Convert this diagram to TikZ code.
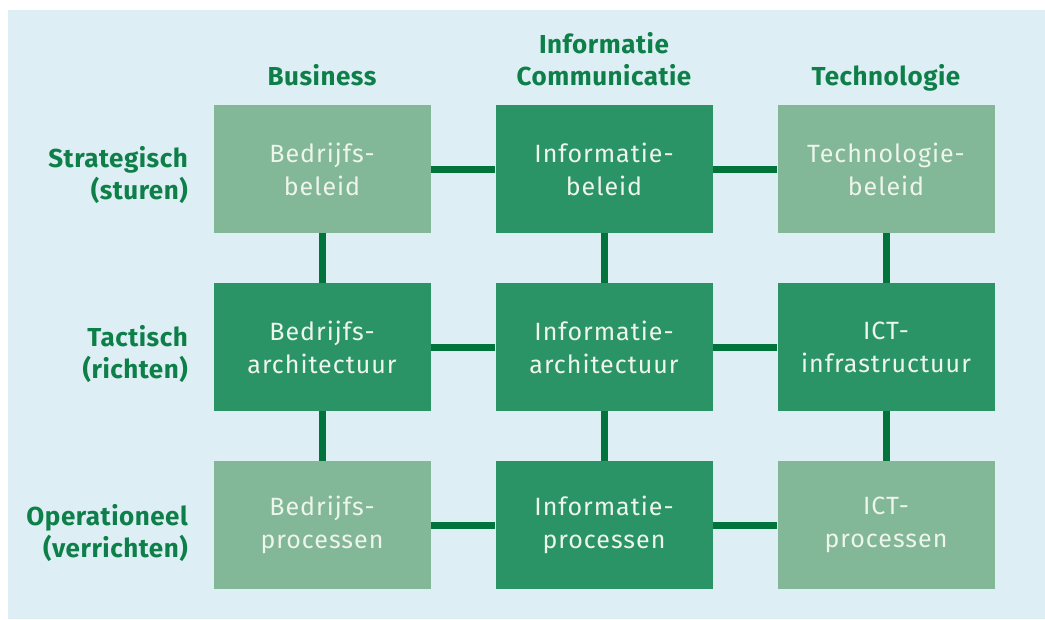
\documentclass[tikz,border=0pt]{standalone}
\usepackage{fontspec}
\setmainfont{Fira Sans}
\newfontfamily\boxfont[LetterSpace=4]{Fira Sans}
\newfontfamily\labfont[LetterSpace=2]{Fira Sans}
\definecolor{bgc}{HTML}{DDEFF5}
\definecolor{lightbox}{HTML}{82B797}
\definecolor{darkbox}{HTML}{2A9466}
\definecolor{linkc}{HTML}{00743A}
\definecolor{labc}{HTML}{0F7F4A}
\definecolor{boxtext}{HTML}{EEF5EC}
\begin{document}
\begin{tikzpicture}[x=1pt,y=-1pt,
  cell/.style={minimum width=217pt,minimum height=128pt,inner sep=0pt,text=boxtext,
    align=center,font=\boxfont\fontsize{25}{33}\selectfont},
  lcell/.style={cell,fill=lightbox},
  dcell/.style={cell,fill=darkbox},
  link/.style={draw=linkc,line width=7pt},
  lab/.style={text=labc,font=\labfont\fontsize{26}{32}\selectfont\bfseries,inner sep=0pt},
  rowlab/.style={lab,align=right,anchor=east},
  collab/.style={lab,align=center,anchor=base}]
\useasboundingbox (0,0) rectangle (1045,619);
\fill[white] (0,0) rectangle (1045,619);
\fill[bgc] (8,10) rectangle (1045,619);
% boxes
\node[lcell] (b1) at (322,169) {Bedrijfs-\\beleid};
\node[dcell] (i1) at (604,169) {Informatie-\\beleid};
\node[lcell] (t1) at (886,169) {Technologie-\\beleid};
\node[dcell] (b2) at (322,347) {Bedrijfs-\\architectuur};
\node[dcell] (i2) at (604,347) {Informatie-\\architectuur};
\node[dcell] (t2) at (886,347) {ICT-\\infrastructuur};
\node[lcell] (b3) at (322,525) {Bedrijfs-\\processen};
\node[dcell] (i3) at (604,525) {Informatie-\\processen};
\node[lcell] (t3) at (886,525) {ICT-\\processen};
% connectors
\foreach \r in {1,2,3}{
  \draw[link] (b\r.east) -- (i\r.west);
  \draw[link] (i\r.east) -- (t\r.west);
}
\foreach \c in {b,i,t}{
  \draw[link] (\c1.south) -- (\c2.north);
  \draw[link] (\c2.south) -- (\c3.north);
}
% column labels
\node[collab] (cb) at (322,85) {Business};
\node[collab] (ci) at (604,53) {Informatie};
\node[collab] (cc) at (604,85) {Communicatie};
\node[collab] (ct) at (886,85) {Technologie};
% row labels
\node[rowlab] (r1) at (188,175) {Strategisch\\(sturen)};
\node[rowlab] (r2) at (188,354) {Tactisch\\(richten)};
\node[rowlab] (r3) at (188,533) {Operationeel\\(verrichten)};
\end{tikzpicture}
\end{document}
